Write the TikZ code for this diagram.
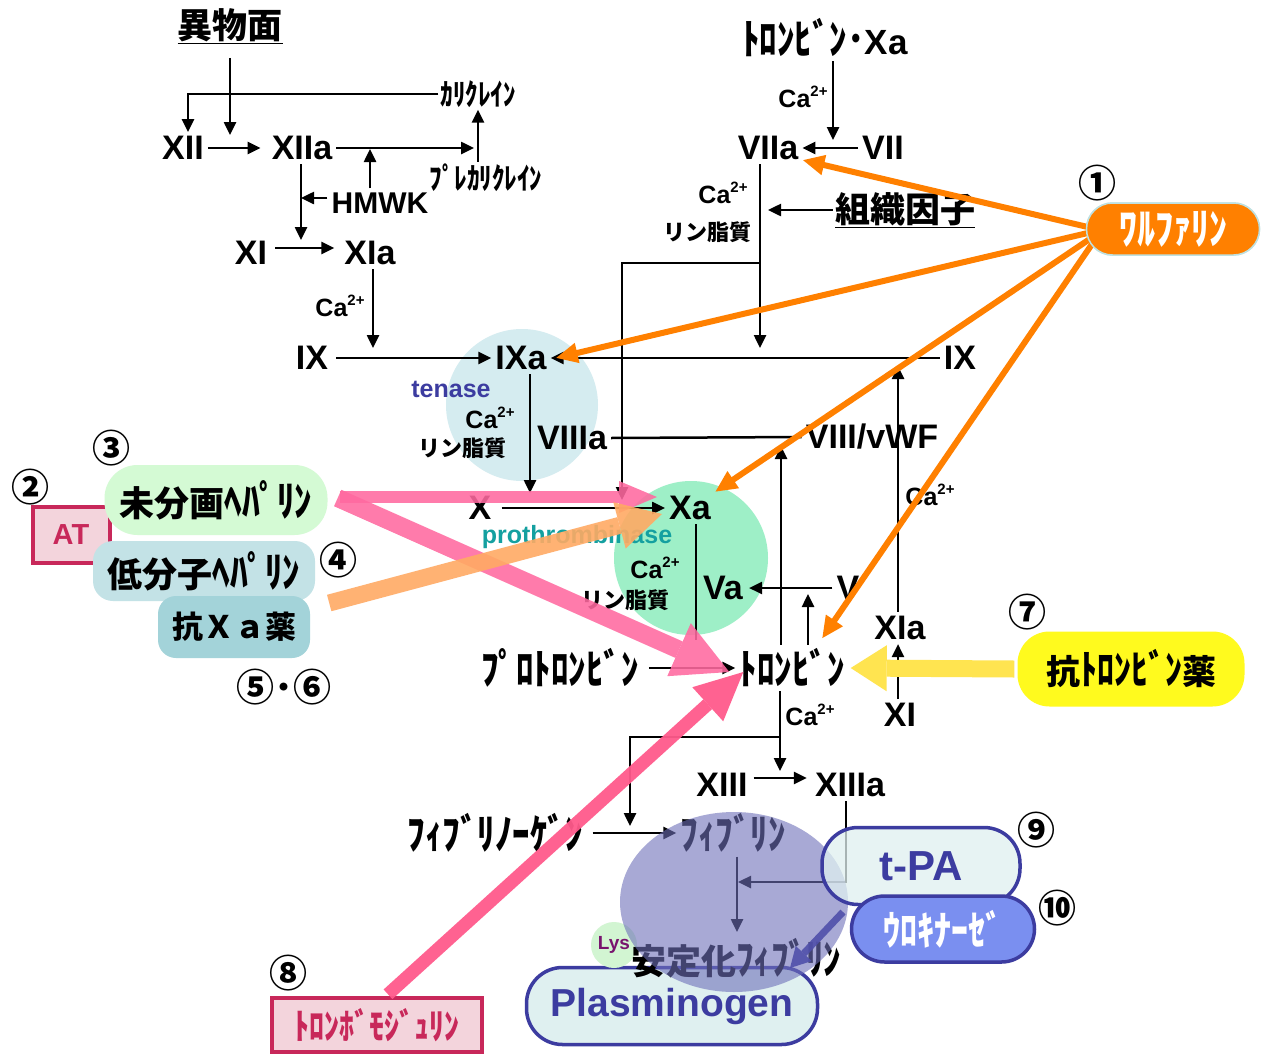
\documentclass[tikz,border=0pt]{standalone}
\usepackage{graphicx}
\usepackage{fontspec}
\setmainfont{Liberation Sans}
\newfontfamily\jp{Noto Sans CJK JP}
\usetikzlibrary{arrows.meta,shapes.geometric}
\definecolor{tenaseC}{RGB}{213,236,240}
\definecolor{prothC}{RGB}{158,239,199}
\definecolor{tenaseT}{RGB}{60,60,160}
\definecolor{prothT}{RGB}{20,160,160}
\definecolor{ellC}{RGB}{110,112,185}
\definecolor{orng}{RGB}{255,128,0}
\definecolor{wbord}{RGB}{190,225,225}
\definecolor{yelBox}{RGB}{255,250,30}
\definecolor{yelArr}{RGB}{255,228,80}
\definecolor{hepC}{RGB}{212,250,212}
\definecolor{lmwhC}{RGB}{195,226,230}
\definecolor{axaC}{RGB}{163,211,217}
\definecolor{atFill}{RGB}{243,212,220}
\definecolor{atBord}{RGB}{200,40,90}
\definecolor{pinkA}{RGB}{255,105,160}
\definecolor{pinkB}{RGB}{255,90,140}
\definecolor{palOr}{RGB}{255,170,100}
\definecolor{cyanBox}{RGB}{223,240,240}
\definecolor{navy}{RGB}{60,60,160}
\definecolor{uroC}{RGB}{122,143,240}
\definecolor{lysC}{RGB}{210,245,210}
\definecolor{lysT}{RGB}{120,20,110}
\newcommand\caion{Ca\raisebox{0.42em}{\fontsize{15}{15}\selectfont 2+}}
\newcommand\kk[1]{\scalebox{1}[1.2]{#1}}
\begin{document}
\begin{tikzpicture}[x=1pt,y=-1pt,
 big/.style={font=\fontsize{34}{34}\selectfont\bfseries, inner sep=4pt},
 mid/.style={font=\fontsize{30}{30}\selectfont\bfseries, inner sep=4pt},
 kt/.style={font=\jp\bfseries\fontsize{35}{35}\selectfont, inner sep=4pt},
 kts/.style={font=\jp\bfseries\fontsize{25}{25}\selectfont, inner sep=2pt},
 jpb/.style={font=\jp\bfseries\fontsize{35}{35}\selectfont, inner sep=2pt},
 lip/.style={font=\jp\bfseries\fontsize{22}{22}\selectfont, inner sep=1pt},
 cal/.style={font=\fontsize{25}{25}\selectfont\bfseries, inner sep=1pt},
 num/.style={font=\jp\bfseries\fontsize{38}{38}\selectfont, inner sep=0pt},
 arr/.style={line width=2.5pt, -{Triangle[length=13pt,width=12pt]}},
 ln/.style={line width=2.5pt},
 drug/.style={rounded corners=28pt, font=\jp\bfseries\fontsize{35}{35}\selectfont, inner sep=0pt},
 pinkfat/.style={draw=pinkA, opacity=0.88},
 warf/.style={draw=orng, line width=6pt, -{Triangle[length=22pt,width=19pt]}},
 bluebox/.style={draw=navy, line width=3.5pt, rounded corners=36pt, inner sep=0pt}
]
\fill[white] (0,0) rectangle (1267,1055);
\useasboundingbox (0,0) rectangle (1267,1055);

% background circles
\node[circle, fill=tenaseC, minimum size=152pt, inner sep=0pt] (tenC) at (522,405) {};
\node[circle, fill=prothC, minimum size=154pt, inner sep=0pt] (proC) at (691,558) {};

% left drug boxes
\node[draw=atBord, fill=atFill, line width=4pt, minimum width=77pt, minimum height=56pt, inner sep=0pt, text=atBord, font=\fontsize{29}{29}\selectfont\bfseries] (AT) at (71,535) {AT};
\node[drug, fill=hepC, minimum width=223pt, minimum height=70pt, rounded corners=33pt] (hep) at (216,500) {未分画\kk{ﾍﾊﾟﾘﾝ}};
\node[drug, fill=lmwhC, minimum width=222pt, minimum height=60pt, rounded corners=20pt] (lmwh) at (204,571) {低分子\kk{ﾍﾊﾟﾘﾝ}};
\node[drug, fill=axaC, minimum width=152pt, minimum height=62pt, rounded corners=18pt, font=\jp\bfseries\fontsize{31}{31}\selectfont] (axa) at (234,627) {抗Ｘａ薬};

% plasminogen
\node[bluebox, fill=cyanBox, minimum width=291pt, minimum height=77pt, text=navy, font=\fontsize{39}{39}\selectfont\bfseries] (plg) at (672,1006) {Plasminogen};

% anti-thrombin drug & thrombomodulin
\node[drug, fill=yelBox, minimum width=227pt, minimum height=75pt, rounded corners=32pt, font=\jp\bfseries\fontsize{34}{34}\selectfont] (ath) at (1131,669) {抗\kk{ﾄﾛﾝﾋﾞﾝ}薬};
\node[draw=atBord, fill=atFill, line width=3.5pt, minimum width=210pt, minimum height=54pt, inner sep=0pt, text=atBord, font=\jp\bfseries\fontsize{30}{30}\selectfont] (tm) at (377,1025) {\kk{ﾄﾛﾝﾎﾞﾓｼﾞｭﾘﾝ}};

% ---- texts ----
\node[jpb] (ibutsu) at (230,26) {\underline{異物面}};
\node[big] (XII) at (183,148) {XII};
\node[big] (XIIa) at (302,148) {XIIa};
\node[kts] (kal) at (478,94) {\kk{ｶﾘｸﾚｲﾝ}};
\node[kts] (prekal) at (486,178) {\kk{ﾌﾟﾚｶﾘｸﾚｲﾝ}};
\node[mid] (HMWK) at (380,203) {HMWK};
\node[big] (XI) at (251,253) {XI};
\node[big] (XIa) at (370,253) {XIa};
\node[cal] (ca1) at (340,306) {\caion};
\node[big] (IX) at (312,358) {IX};
\node[big] (IXa) at (521,358) {IXa};
\node[cal, text=tenaseT] (tenase) at (451,389) {tenase};
\node[cal] (ca2) at (490,418) {\caion};
\node[lip] (lip1) at (462,448) {リン脂質};
\node[big] (VIIIa) at (572,438) {VIIIa};
\node[big] (X) at (480,508) {X};
\node[big] (Xa) at (690,508) {Xa};
\node[cal, text=prothT] (pt) at (577,537) {prothrombinase};
\node[cal] (ca3) at (655,568) {\caion};
\node[lip] (lip2) at (625,600) {リン脂質};
\node[big] (Va) at (723,588) {Va};
\node[big] (V) at (848,588) {V};
\node[kt] (thXa) at (825,38) {\kk{ﾄﾛﾝﾋﾞﾝ･}{\rmfamily\bfseries Xa}};
\node[cal] (ca4) at (803,97) {\caion};
\node[big] (VIIa) at (768,148) {VIIa};
\node[big] (VII) at (883,148) {VII};
\node[cal] (ca5) at (723,193) {\caion};
\node[lip] (lip3) at (707,232) {リン脂質};
\node[jpb] (tf) at (905,210) {\underline{組織因子}};
\node[big] (IXr) at (960,358) {IX};
\node[big] (VIII) at (872,437) {VIII/vWF};
\node[cal] (ca6) at (930,495) {\caion};
\node[big] (XIar) at (900,628) {XIa};
\node[big] (XIr) at (900,715) {XI};
\node[kt] (pro) at (560,668) {\kk{ﾌﾟﾛﾄﾛﾝﾋﾞﾝ}};
\node[kt] (thr) at (792,668) {\kk{ﾄﾛﾝﾋﾞﾝ}};
\node[cal] (ca7) at (810,715) {\caion};
\node[big] (XIII) at (722,785) {XIII};
\node[big] (XIIIa) at (850,785) {XIIIa};
\node[kt] (fbg) at (495,833) {\kk{ﾌｨﾌﾞﾘﾉｰｹﾞﾝ}};
\node[kt] (fib) at (733,833) {\kk{ﾌｨﾌﾞﾘﾝ}};

% ---- connectors ----
\coordinate (jA) at (230,135);
\draw[arr] ([yshift=-12pt]ibutsu.south) -- (jA);
\draw[arr, shorten >=7pt] (XII.east) -- (XIIa.west);
\draw[arr] (kal.west) -| ([xshift=5pt]XII.north);
\coordinate (kj) at (474,148);
\coordinate (kx) at (478,0);
\draw[arr] (XIIa.east) -- (kj);
\draw[arr] (prekal.north -| kx) -- (kal.south -| kx);
\coordinate (hx) at (370,149);
\draw[arr] (HMWK.north -| hx) -- (hx);
\coordinate (xdj) at (301,240);
\draw[arr] ([yshift=5pt]HMWK.west) -- ([yshift=5pt]HMWK.west -| xdj);
\draw[arr] (XIIa.south -| xdj) -- (xdj);
\draw[arr, shorten >=6pt, shorten <=4pt] ([yshift=5pt]XI.east) -- ([yshift=5pt]XIa.west);
\coordinate (ixj) at (373,348);
\draw[arr] (XIa.south -| ixj) -- (ixj);
\draw[arr, shorten <=4pt] (IX.east) -- (IXa.west);
\coordinate (txj) at (530,493);
\draw[arr] (IXa.south -| txj) -- (txj);
\draw[arr, shorten <=6pt] (X.east) -- (Xa.west);
\coordinate (vj) at (833,140);
\draw[arr] (thXa.south -| vj) -- (vj);
\draw[arr] (VII.west) -- (VIIa.east);
\coordinate (vd) at (760,348);
\draw[arr] (VIIa.south -| vd) -- (vd);
\coordinate (tfj) at (768,210);
\draw[arr] (tf.west) -- (tf.west -| tfj);
\coordinate (br1) at (760,263);
\coordinate (xj2) at (622,500);
\draw[arr] (br1) -| (xj2);
\draw[arr] (IXr.west) -- (IXa.east);
\draw[ln] (VIIIa.east) -- (VIII.west);
\coordinate (xu) at (898,366);
\draw[arr] (XIar.north -| xu) -- (xu);
\draw[arr] (XIr.north -| xu) -- (XIar.south -| xu);
\draw[arr, shorten >=2pt] (V.west) -- (Va.east);
\coordinate (xad) at (696,640);
\draw[ln] (Xa.south -| xad) -- (xad);
\draw[arr, shorten <=6pt] (pro.east) -- (thr.west);
\coordinate (t8) at (781,446);
\draw[arr] (thr.north -| t8) -- (t8);
\coordinate (t5) at (808,594);
\draw[arr] (thr.north -| t5) -- (t5);
\coordinate (t13) at (780,771);
\draw[arr] (thr.south -| t13) -- (t13);
\coordinate (br2) at (780,737);
\coordinate (fj) at (630,826);
\draw[arr] (br2) -| (fj);
\draw[arr, shorten <=2pt, shorten >=4pt] ([yshift=7pt]XIII.east) -- ([yshift=7pt]XIIIa.west);
\draw[arr, shorten <=6pt] (fbg.east) -- (fib.west);
\coordinate (x13c) at (846,882);
\coordinate (fj2) at (738,882);
\draw[arr] (XIIIa.south -| x13c) -- (x13c) -- (fj2);
\coordinate (sj) at (737,932);
\draw[arr] (fib.south -| sj) -- (sj);

% stabilized fibrin, Lys
\node[circle, fill=lysC, minimum size=46pt, inner sep=0pt, text=lysT, font=\fontsize{19}{19}\selectfont\bfseries] (lys) at (614,945) {Lys};
\node[kt] (sfib) at (736,958) {安定化\kk{ﾌｨﾌﾞﾘﾝ}};

% fibrinolysis ellipse
\node[ellipse, fill=ellC, fill opacity=0.6, minimum width=228pt, minimum height=180pt, inner sep=0pt] (fibE) at (734,902) {};

% t-PA & urokinase
\node[bluebox, fill=cyanBox, fill opacity=0.75, text opacity=1, minimum width=198pt, minimum height=77pt, text=navy, font=\fontsize{42}{42}\selectfont\bfseries] (tpa) at (921,866) {t-PA};
\node[bluebox, fill=uroC, minimum width=183pt, minimum height=66pt, rounded corners=33pt, text=white, font=\jp\bfseries\fontsize{34}{34}\selectfont] (uro) at (943,929) {\kk{ｳﾛｷﾅｰｾﾞ}};
\draw[draw=navy!90!white, line width=7pt, -{Triangle[length=20pt,width=22pt,line width=0pt]}, opacity=0.9] ([xshift=-78pt,yshift=-46pt]tpa.center) -- ([xshift=118pt,yshift=38pt]plg.center);

% fat arrows
\draw[pinkfat, line width=12pt, -{Triangle[length=38pt,width=32pt,line width=0pt]}] ([xshift=12pt,yshift=3pt]hep.east) -- ([xshift=-8pt,yshift=11pt]Xa.west);
\draw[pinkfat, line width=18pt, -{Triangle[length=55pt,width=58pt,line width=0pt]}] ([xshift=10pt,yshift=2pt]hep.east) -- ([xshift=-6pt,yshift=-4pt]thr.west);
\draw[draw=palOr, opacity=0.9, line width=17pt, -{Triangle[length=44pt,width=48pt,line width=0pt]}] ([xshift=14pt,yshift=-32pt]lmwh.east) -- ([xshift=-3pt,yshift=-6pt]Xa.west);
\draw[draw=pinkB, opacity=0.95, line width=13pt, -{Triangle[length=48pt,width=46pt,line width=0pt]}] ([xshift=11pt,yshift=2pt]tm.north) -- ([xshift=8pt,yshift=-4pt]thr.west);
\draw[draw=yelArr, line width=17pt, -{Triangle[length=36pt,width=46pt,line width=0pt]}] ([xshift=-3pt]ath.west) -- ([xshift=2pt]thr.east);

% warfarin
\node[drug, fill=orng, draw=wbord, line width=1.5pt, minimum width=173pt, minimum height=52pt, rounded corners=26pt, text=white, font=\jp\bfseries\fontsize{36}{36}\selectfont] (war) at (1173,229) {\kk{ﾜﾙﾌｧﾘﾝ}};
\draw[warf] ([xshift=2pt,yshift=2pt]war.west) -- ([yshift=-12pt]VIIa.east);
\draw[warf] ([xshift=2pt,yshift=-4pt]war.west) -- ([xshift=5pt]IXa.east);
\draw[warf] ([xshift=4pt,yshift=-10pt]war.west) -- (Xa.north east);
\draw[warf] ([xshift=7pt,yshift=-14pt]war.west) -- ([xshift=30pt,yshift=6pt]thr.north);
\node[drug, fill=orng, draw=wbord, line width=1.5pt, minimum width=173pt, minimum height=52pt, rounded corners=26pt, text=white, font=\jp\bfseries\fontsize{36}{36}\selectfont] (war2) at (1173,229) {\kk{ﾜﾙﾌｧﾘﾝ}};

% numbers
\node[num] (n1) at (1097,183) {①};
\node[num] (n2) at (30,487) {②};
\node[num] (n3) at (111,448) {③};
\node[num] (n4) at (338,560) {④};
\node[num] (n56) at (284,687) {⑤･⑥};
\node[num] (n7) at (1027,612) {⑦};
\node[num] (n8) at (288,973) {⑧};
\node[num] (n9) at (1036,830) {⑨};
\node[num] (n10) at (1057,908) {⑩};
\end{tikzpicture}
\end{document}
